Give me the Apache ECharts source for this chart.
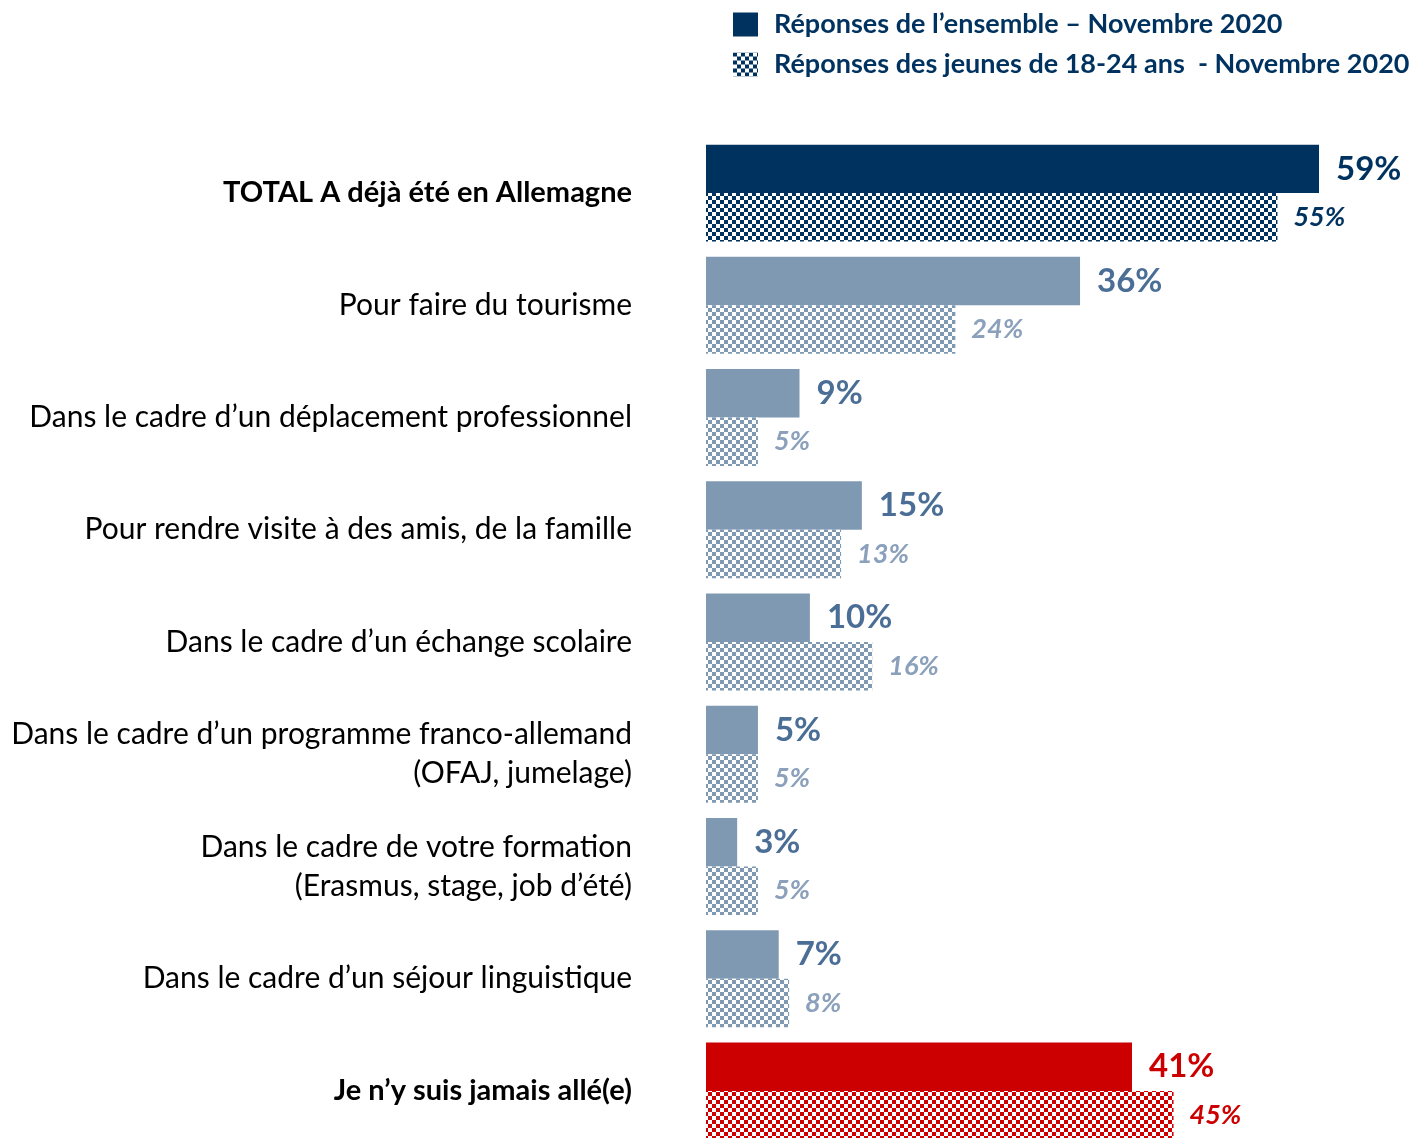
<!DOCTYPE html>
<html>
<head>
<meta charset="utf-8">
<script src="https://cdn.jsdelivr.net/npm/echarts@6/dist/echarts.min.js"></script>
<style>
  html, body { margin: 0; padding: 0; background: #fff; }
  #chart { width: 1419px; height: 1138px; }
</style>
</head>
<body>
<div id="chart"></div>
<script>
// Categories (top to bottom)
const categories = [
  'TOTAL A déjà été en Allemagne',
  'Pour faire du tourisme',
  'Dans le cadre d’un déplacement professionnel',
  'Pour rendre visite à des amis, de la famille',
  'Dans le cadre d’un échange scolaire',
  'Dans le cadre d’un programme franco-allemand\n(OFAJ, jumelage)',
  'Dans le cadre de votre formation\n(Erasmus, stage, job d’été)',
  'Dans le cadre d’un séjour linguistique',
  'Je n’y suis jamais allé(e)'
];
const boldRows = [0, 8];

// Values in %
const ensembleValues = [59, 36, 9, 15, 10, 5, 3, 7, 41];
const jeunesValues   = [55, 24, 5, 13, 16, 5, 5, 8, 45];

const seriesNames = [
  'Réponses de l’ensemble – Novembre 2020',
  'Réponses des jeunes de 18-24 ans  - Novembre 2020'
];

// Palette
const NAVY = '#00325f';
const STEEL = '#7f99b3';
const RED = '#cc0000';
const STEEL_LABEL = '#4a6e96';
const STEEL_LABEL_LIGHT = '#8aa0bb';

function rowColor(i) {
  if (i === 0) return NAVY;
  if (i === 8) return RED;
  return STEEL;
}

// Checkerboard fill for the 18-24 series
function checker(color) {
  const c = document.createElement('canvas');
  c.width = 8; c.height = 8;
  const ctx = c.getContext('2d');
  ctx.fillStyle = '#ffffff';
  ctx.fillRect(0, 0, 8, 8);
  ctx.fillStyle = color;
  ctx.fillRect(0, 0, 4, 4);
  ctx.fillRect(4, 4, 4, 4);
  return { image: c, repeat: 'repeat' };
}
const patterns = {};
[NAVY, STEEL, RED].forEach(c => { patterns[c] = checker(c); });

const FONT = 'Lato';

const ensembleData = ensembleValues.map((v, i) => ({
  value: v,
  itemStyle: { color: rowColor(i) },
  label: { color: i === 0 ? NAVY : (i === 8 ? RED : STEEL_LABEL) }
}));
const jeunesData = jeunesValues.map((v, i) => ({
  value: v,
  itemStyle: { color: patterns[rowColor(i)] },
  label: { color: i === 0 ? NAVY : (i === 8 ? RED : STEEL_LABEL_LIGHT) }
}));

const chart = echarts.init(document.getElementById('chart'), null, { renderer: 'canvas' });

chart.setOption({
  animation: false,
  backgroundColor: '#ffffff',
  legend: {
    orient: 'vertical',
    left: 728,
    top: 6,
    itemWidth: 25,
    itemHeight: 24,
    itemGap: 13,
    selectedMode: false,
    textStyle: {
      fontFamily: FONT,
      fontWeight: 'bold',
      fontSize: 27,
      color: NAVY,
      padding: [0, 0, 0, 11]
    },
    data: [
      { name: seriesNames[0], icon: 'rect', itemStyle: { color: NAVY } },
      { name: seriesNames[1], icon: 'rect', itemStyle: { color: patterns[NAVY] } }
    ]
  },
  grid: {
    left: 706,
    top: 137,
    width: 623.4,
    height: 1010,
    containLabel: false,
    outerBoundsMode: 'none'
  },
  xAxis: {
    type: 'value',
    min: 0,
    max: 60,
    show: false
  },
  yAxis: {
    type: 'category',
    inverse: true,
    data: categories,
    axisLine: { show: false },
    axisTick: { show: false },
    splitLine: { show: false },
    axisLabel: {
      margin: 74,
      align: 'right',
      fontFamily: FONT,
      fontSize: 30,
      color: '#000',
      lineHeight: 39,
      formatter: function (val, idx) {
        return boldRows.indexOf(idx) >= 0 ? '{b|' + val + '}' : val;
      },
      rich: {
        b: { fontFamily: FONT, fontSize: 29, fontWeight: 'bold', color: '#000', lineHeight: 39 }
      }
    }
  },
  series: [
    {
      name: seriesNames[0],
      type: 'bar',
      barGap: '0%',
      barCategoryGap: '13.6%',
      data: ensembleData,
      itemStyle: { color: NAVY },
      label: {
        show: true,
        position: 'right',
        distance: 17,
        formatter: '{c}%',
        fontFamily: FONT,
        fontWeight: 'bold',
        fontSize: 33
      }
    },
    {
      name: seriesNames[1],
      type: 'bar',
      data: jeunesData,
      itemStyle: { color: patterns[NAVY] },
      label: {
        show: true,
        position: 'right',
        distance: 16,
        formatter: '{c}%',
        fontFamily: FONT,
        fontWeight: 'bold',
        fontStyle: 'italic',
        fontSize: 27
      }
    }
  ]
});
</script>
</body>
</html>
